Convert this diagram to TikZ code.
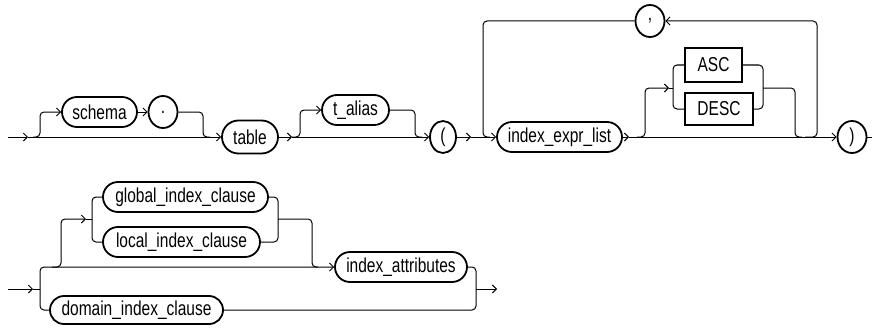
\documentclass[tikz,border=0pt]{standalone}
\usepackage{fontspec}
\usepackage{graphicx}
\setmainfont{Liberation Sans}
\usetikzlibrary{arrows.meta,shapes.misc,shapes.geometric}
\newcommand{\lbl}[1]{\scalebox{1}[1.3]{#1}}
\tikzset{
  nt/.style={rounded rectangle, draw, line width=1.8pt, minimum height=30pt, inner sep=0pt, font=\fontsize{15.5}{16}\selectfont},
  kw/.style={rectangle, draw, line width=1.4pt, inner sep=0pt, font=\fontsize{15.5}{16}\selectfont},
  pun/.style={ellipse, draw, line width=1.8pt, minimum width=29pt, minimum height=32pt, inner sep=0pt, font=\fontsize{15.5}{16}\selectfont},
  ln/.style={line width=1pt, rounded corners=4pt},
  ar/.style={ln, -{Straight Barb[length=4pt,width=8pt,line width=0.9pt]}},
}
\begin{document}
\begin{tikzpicture}[x=1pt,y=-1pt]
\useasboundingbox (0,0) rectangle (872,329);
% ---------- row 1 ----------
\node[nt, minimum width=75pt] (schema) at (99.5,112) {\lbl{schema}};
\node[pun] (dot) at (163,112) {\lbl{.}};
\node[nt, minimum width=56pt, minimum height=33pt] (table) at (250,137) {\lbl{table}};
\node[nt, minimum width=67pt] (talias) at (355.5,110) {\lbl{t\_alias}};
\node[pun, minimum width=26pt] (lp) at (443,137) {\lbl{(}};
\node[nt, minimum width=125pt] (iel) at (559.5,137) {\lbl{index\_expr\_list}};
\node[pun] (comma) at (650,21) {\lbl{,}};
\node[kw, minimum width=57pt, minimum height=34pt] (asc) at (713.5,65) {\lbl{ASC}};
\node[kw, minimum width=68pt, minimum height=32pt] (desc) at (719,109) {\lbl{DESC}};
\node[pun] (rp) at (852,137) {\lbl{)}};
\coordinate (s1) at (8,137);
\coordinate (a1) at (28,137);
\coordinate (j1) at (33,137);
\coordinate (j2) at (292,137);
\coordinate (a2) at (471,137);
\coordinate (j3) at (629,137);
\coordinate (e1) at (872,137);
% entry and main line
\draw[ar] (s1) -- (a1);
\draw[ar] (a1) -- (table.west);
\draw[ar] (j1) -| (40,112) -- (schema.west);
\draw[ar] (schema.east) -- (dot.west);
\draw[ln] (dot.east) -| (203,137) -- (210,137);
\draw[ar] (table.east) -- (j2);
\draw[ar] (j2) -- (lp.west);
\draw[ar] (j2) -| (300,110) -- (talias.west);
\draw[ln] (talias.east) -| (415,137) -- (422,137);
\draw[ar] (lp.east) -- (a2);
\draw[ar] (a2) -- (iel.west);
% loop with comma
\draw[ar] (805,137) -| (817,21) -- (comma.east);
\draw[ln] (comma.west) -| (483,137) -- (490,137);
% ASC / DESC
\draw[ar] (iel.east) -- (j3);
\draw[ar] (j3) -- (rp.west);
\draw[ar] (637,137) -| (645,88) -- (669,88);
\draw[ln] (669,88) -- (673,88);
\draw[ln] (asc.west) -| (673,88) |- (desc.west);
\draw[ln] (asc.east) -| (763,88) |- (desc.east);
\draw[ln] (763,88) -| (795,137) -- (802,137);
\draw[line width=1pt] (rp.east) -- (e1);
% ---------- row 2 ----------
\node[nt, minimum width=165pt] (gic) at (185.5,197) {\lbl{global\_index\_clause}};
\node[nt, minimum width=157pt] (lic) at (181.5,242) {\lbl{local\_index\_clause}};
\node[nt, minimum width=132pt] (ia) at (401,267) {\lbl{index\_attributes}};
\node[nt, minimum width=173pt, minimum height=28pt] (dic) at (136.5,310) {\lbl{domain\_index\_clause}};
\coordinate (s2) at (8,289);
\coordinate (a3) at (33,289);
\coordinate (j4) at (40,289);
\coordinate (j5) at (476,289);
\coordinate (e2) at (497,289);
\draw[ar] (s2) -- (a3);
\draw[line width=1pt] (a3) -- (j4);
\draw[ar] (j4) |- (ia.west);
\draw[ln] (j4) |- (dic.west);
\draw[ar] (52,267) -| (61,219) -- (86,219);
\draw[ln] (86,219) -- (92,219);
\draw[ln] (gic.west) -| (92,219) |- (lic.west);
\draw[ln] (gic.east) -| (278,219) |- (lic.east);
\draw[ln] (278,219) -| (312,267) -- (318,267);
\draw[ln] (ia.east) -| (j5);
\draw[ln] (dic.east) -| (j5);
\draw[ar] (j5) -- (e2);
\end{tikzpicture}
\end{document}
